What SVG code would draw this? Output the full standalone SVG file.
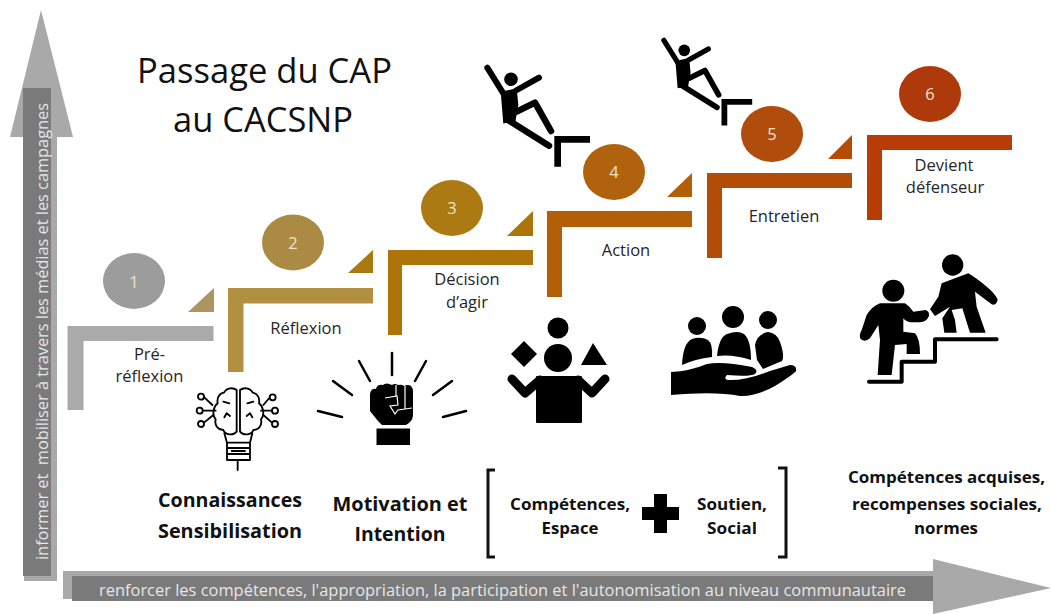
<svg xmlns="http://www.w3.org/2000/svg" width="1051" height="614" viewBox="0 0 1051 614">
<style>
text{font-family:"Open Sans","Noto Sans","Liberation Sans",sans-serif;text-anchor:middle;white-space:pre}
.lbl{font-size:16.5px;fill:#262626}
.num{font-size:16.5px;fill:#efe3cc}
.bold{font-weight:700;fill:#111}
.ttl{font-size:35px;fill:#111}
.bar{font-size:16px;fill:#e6e6e6}
.ln{fill:none;stroke:#000;stroke-linecap:round;stroke-linejoin:round}
.thin{fill:none;stroke:#000;stroke-width:5.500;stroke-linecap:round;stroke-linejoin:round}
</style>
<defs>
<g id="climber">
<circle cx="511" cy="79.300" r="6.800"/>
<path d="M500.700 91.700L516.700 88.300L518.300 105L515.500 121L503.300 123.500Z"/>
<path class="ln" stroke-width="6" d="M487.300 67.700L503.300 93.300M539 77.700L516 90.500"/>
<path class="ln" stroke-width="6.500" d="M516.700 111.700L535 102.700L551 131M508 120L549 145.700"/>
<path d="M590 136V142.700H561V166.700H554.300V136Z"/>
</g>
</defs>

<rect width="1051" height="614" fill="#fff"/>

<g id="arrow-vertical">
<path d="M41 10L73 137H57V581H24V137H10Z" fill="#a9a9a9"/>
<rect x="23" y="88" width="28" height="488" fill="#7a7a7a"/>
<text class="bar" transform="translate(48 331.500) rotate(-90)" textLength="457" lengthAdjust="spacingAndGlyphs">informer et  mobiliser à travers les médias et les campagnes</text>
</g>

<g id="arrow-horizontal">
<path d="M63 571H933V559L1051 588L933 614V599H63Z" fill="#a9a9a9"/>
<rect x="72" y="576" width="861" height="25" fill="#7a7a7a"/>
<text class="bar" x="502.500" y="596" textLength="807" lengthAdjust="spacingAndGlyphs">renforcer les compétences, l'appropriation, la participation et l'autonomisation au niveau communautaire</text>
</g>

<g id="title">
<text class="ttl" x="264.500" y="83" textLength="255" lengthAdjust="spacingAndGlyphs">Passage du CAP</text>
<text class="ttl" x="263" y="132" textLength="180" lengthAdjust="spacingAndGlyphs">au CACSNP</text>
</g>

<g id="connectors">
<path d="M188 312L214 288V312Z" fill="#ab9560"/>
<path d="M348 273L373 250V273Z" fill="#a87a10"/>
<path d="M507 236L533 211V236Z" fill="#ad7409"/>
<path d="M667 197L692 173V197Z" fill="#b35f08"/>
<path d="M828 159L852 135V159Z" fill="#b34c06"/>
</g>

<g id="step-1">
<path d="M67.500 410V326H213.500V341H83.500V410Z" fill="#aaa"/>
<ellipse cx="134" cy="281" rx="31" ry="28" fill="#9c9c9c"/>
<text class="num" x="134" y="288">1</text>
<text class="lbl" x="149.500" y="360">Pré-</text>
<text class="lbl" x="149.500" y="382">réflexion</text>
</g>
<g id="step-2">
<path d="M228 372V288H373V303.500H243.500V372Z" fill="#b38f42"/>
<ellipse cx="293" cy="242.500" rx="31" ry="28" fill="#ab8a43"/>
<text class="num" x="293" y="248.500">2</text>
<text class="lbl" x="306" y="334">Réflexion</text>
</g>
<g id="step-3">
<path d="M388 335V250H533V265H402V335Z" fill="#ad7409"/>
<ellipse cx="452" cy="208" rx="31" ry="28" fill="#ab7a12"/>
<text class="num" x="452" y="214">3</text>
<text class="lbl" x="467" y="285">Décision</text>
<text class="lbl" x="467" y="308">d’agir</text>
</g>
<g id="step-4">
<path d="M547 297V211H692V227H562V297Z" fill="#b35f08"/>
<ellipse cx="614" cy="172" rx="31" ry="28" fill="#b0620e"/>
<text class="num" x="614" y="178">4</text>
<text class="lbl" x="626" y="256">Action</text>
</g>
<g id="step-5">
<path d="M707 258V173H852V188H722V258Z" fill="#b34c06"/>
<ellipse cx="772" cy="134" rx="31" ry="28" fill="#b04c0c"/>
<text class="num" x="772" y="140">5</text>
<text class="lbl" x="784" y="222">Entretien</text>
</g>
<g id="step-6">
<path d="M867 220V135H1012V150H882V220Z" fill="#b73c05"/>
<ellipse cx="930" cy="94" rx="31" ry="28" fill="#ae3a0c"/>
<text class="num" x="930" y="100">6</text>
<text class="lbl" x="944" y="171">Devient</text>
<text class="lbl" x="945" y="193">défenseur</text>
</g>

<g id="climber-1"><use href="#climber"/></g>
<g id="climber-2"><use href="#climber" transform="translate(244.800 -17.900) scale(.86)"/></g>

<g id="icon-brain" transform="translate(195 380) scale(.3333)">
<path class="thin" d="M125 30C115 22 95 22 87 38C72 40 65 55 68 70C55 80 50 105 62 118C58 135 68 150 85 150C90 165 115 168 125 155ZM135 30C145 22 165 22 173 38C188 40 195 55 192 70C205 80 210 105 198 118C202 135 192 150 175 150C170 165 145 168 135 155Z"/>
<path class="thin" d="M28 52L52 75M24 92H62M27 128L55 105M223 54L205 75M230 92H198M231 128L205 105"/>
<path class="thin" d="M85 65L103 70M95 100L88 112M105 108L95 100M175 65L157 70M165 100L172 112M155 108L165 100"/>
<circle class="thin" cx="18" cy="50" r="9"/><circle class="thin" cx="14" cy="92" r="9"/><circle class="thin" cx="18" cy="132" r="9"/>
<circle class="thin" cx="233" cy="52" r="9"/><circle class="thin" cx="240" cy="92" r="9"/><circle class="thin" cx="240" cy="132" r="9"/>
<path class="thin" d="M88 160L96 188H165L172 160M96 188V240H165V188M96 204H165M96 222H165M110 213H150M128 240V270"/>
</g>

<g id="icon-fist">
<path class="ln" stroke-width="2.500" d="M392 353V375M359 361L370 381M426 361L415 381M333 381L352 395M452 381L433 395M318 411L342 417M466 411L443 417"/>
<path d="M370 394Q371 388 376 389Q377 384 383 385Q386 382 392 385Q395 383 398 385Q402 384 404 386Q408 384 411 386Q413 388 413 392V416Q412 422 406 425H382L378 421L370 411Z"/>
<rect x="376.500" y="428.500" width="33.500" height="16.500"/>
<path d="M385 398L397 396L398 405L390 406L395 414L398 410L405 409L412 408M405 386V409M396 385V396" fill="none" stroke="#fff" stroke-width="1.200"/>
</g>

<g id="icon-juggler">
<circle cx="558" cy="328" r="10.500"/>
<circle cx="558" cy="358" r="14"/>
<path d="M524 341L537 354L524 367L511 354Z"/>
<path d="M593 343L607 365H581Z"/>
<rect x="536" y="376" width="46" height="47" rx="1"/>
<path class="ln" stroke-width="9" d="M512 379L525 393L540 380M605 379L592 393L578 380"/>
</g>

<g id="icon-community">
<circle cx="697" cy="326" r="9"/>
<circle cx="733" cy="317" r="11"/>
<circle cx="768" cy="320" r="9"/>
<path d="M682 365Q683 343 692 339Q701 336 708 340Q713 344 712 357Q695 359 682 365Z"/>
<path d="M717 356Q719 337 727 334Q738 330 744 334Q751 340 751 360Q733 354 717 356Z"/>
<path d="M755 345Q757 334 768 332Q777 333 780 342Q785 356 782 361L763 369L757 360Z"/>
<path d="M671 372Q690 371 707 364Q722 361 752 367Q759 370 755 374Q750 377 727 375Q723 379 728 380Q745 381 770 371L790 365Q797 365 796 371Q794 374 775 386Q755 397 740 396Q715 391 671 395Z"/>
</g>

<g id="icon-helpers" transform="translate(855 250) scale(.3333)">
<circle cx="293" cy="45" r="32"/>
<circle cx="115" cy="122" r="33"/>
<path class="ln" stroke-width="12" d="M42 395H140V335H240V268H425"/>
<path d="M75 160L150 160Q165 170 175 185L212 180Q224 185 222 198Q215 215 195 217L165 217Q150 213 145 205L145 245L180 250Q195 265 195 312H155L155 282L120 285L110 375H68L75 270L70 225L45 265Q30 278 18 268Q10 258 20 240L35 195Q50 170 75 160Z"/>
<path d="M260 100L340 70Q365 85 395 110Q420 130 428 148Q425 168 410 163L360 125L365 170L392 248H345L322 175L290 180L300 210L305 248H268L262 205L285 170L240 198L225 178L250 140Z"/>
</g>

<g id="label-connaissances">
<text class="bold" x="230" y="507" font-size="19.500" textLength="144" lengthAdjust="spacingAndGlyphs">Connaissances</text>
<text class="bold" x="230" y="538" font-size="19.500" textLength="144" lengthAdjust="spacingAndGlyphs">Sensibilisation</text>
</g>
<g id="label-motivation">
<text class="bold" x="400" y="511" font-size="19.500" textLength="135" lengthAdjust="spacingAndGlyphs">Motivation et</text>
<text class="bold" x="400" y="541" font-size="19.500" textLength="91" lengthAdjust="spacingAndGlyphs">Intention</text>
</g>
<g id="label-competences">
<path d="M495 470H488V557H495M778 468H786V557H778" fill="none" stroke="#111" stroke-width="3"/>
<text class="bold" x="570" y="510" font-size="16.500" textLength="120" lengthAdjust="spacingAndGlyphs">Compétences,</text>
<text class="bold" x="570" y="534" font-size="16.500" textLength="57" lengthAdjust="spacingAndGlyphs">Espace</text>
<path d="M654 494H667V507H679V520H667V533H654V520H642V507H654Z" fill="#000"/>
<text class="bold" x="732" y="510" font-size="16.500" textLength="70" lengthAdjust="spacingAndGlyphs">Soutien,</text>
<text class="bold" x="732" y="534" font-size="16.500" textLength="50" lengthAdjust="spacingAndGlyphs">Social</text>
</g>
<g id="label-normes">
<text class="bold" x="946.500" y="483" font-size="16.500" textLength="197" lengthAdjust="spacingAndGlyphs">Compétences acquises,</text>
<text class="bold" x="947" y="510" font-size="16.500" textLength="190" lengthAdjust="spacingAndGlyphs">recompenses sociales,</text>
<text class="bold" x="946" y="534" font-size="16.500" textLength="64" lengthAdjust="spacingAndGlyphs">normes</text>
</g>
</svg>
